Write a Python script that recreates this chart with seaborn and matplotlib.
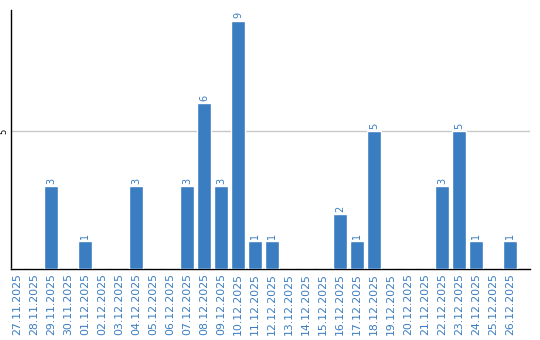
import matplotlib
matplotlib.use("Agg")
import matplotlib.pyplot as plt
import seaborn as sns
import pandas as pd

dates = ["27.11.2025", "28.11.2025", "29.11.2025", "30.11.2025", "01.12.2025",
         "02.12.2025", "03.12.2025", "04.12.2025", "05.12.2025", "06.12.2025",
         "07.12.2025", "08.12.2025", "09.12.2025", "10.12.2025", "11.12.2025",
         "12.12.2025", "13.12.2025", "14.12.2025", "15.12.2025", "16.12.2025",
         "17.12.2025", "18.12.2025", "19.12.2025", "20.12.2025", "21.12.2025",
         "22.12.2025", "23.12.2025", "24.12.2025", "25.12.2025", "26.12.2025"]
counts = [0, 0, 3, 0, 1, 0, 0, 3, 0, 0, 3, 6, 3, 9, 1, 1, 0, 0, 0, 2, 1, 5, 0, 0, 0, 3, 5, 1, 0, 1]
yticks = [5]

sns.set_style("white")
plt.rcParams['font.family'] = ['DejaVu Sans']

color = "#3a7dc1"
df = pd.DataFrame({"date": dates, "count": counts})

fig = plt.figure(figsize=(5.4, 3.4), dpi=100)
ax = fig.add_axes([11/540, 1-269/340, 519/540, 259/340])
sns.barplot(data=df, x="date", y="count", color=color, saturation=1, width=0.82, ax=ax, zorder=3)
ax.set_xlim(-0.35, 30.18)
ax.set_ylim(0, 259/27.6)
ax.set_yticks(yticks)
ax.set_yticklabels([str(t) for t in yticks], rotation=90, va="center", fontsize=6, color="black")
ax.yaxis.grid(True, color="#c8c8c8", linewidth=1, zorder=0)
ax.set_axisbelow(True)
ax.tick_params(axis="y", length=0, pad=2)
ax.tick_params(axis="x", length=0, pad=3, labelcolor=color, labelsize=7.8, rotation=90)
for lab in ax.get_xticklabels():
    lab.set_va("top")
ax.set_xlabel("")
ax.set_ylabel("")
for s in ["top", "right"]:
    ax.spines[s].set_visible(False)
for s in ["left", "bottom"]:
    ax.spines[s].set_color("black")
    ax.spines[s].set_linewidth(1)
for i, v in enumerate(counts):
    if v > 0:
        ax.text(i, v + 0.08, str(v), rotation=90, ha="center", va="bottom", fontsize=7, color=color)
fig.savefig("out.png", dpi=100)
